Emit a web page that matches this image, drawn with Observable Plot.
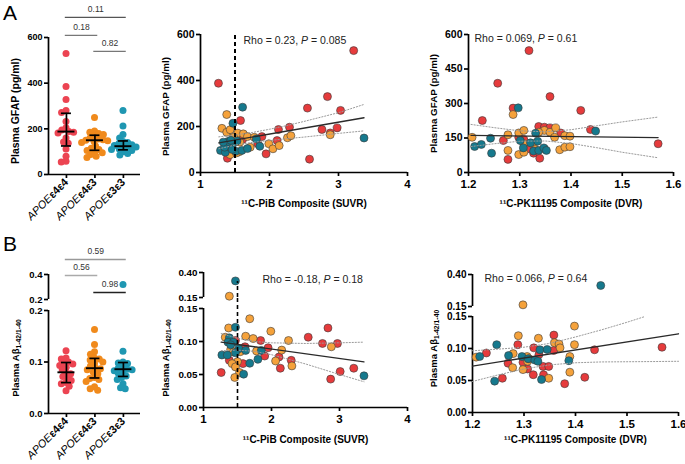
<!DOCTYPE html>
<html><head><meta charset="utf-8">
<script src="https://cdn.jsdelivr.net/npm/d3@7"></script>
<script src="https://cdn.jsdelivr.net/npm/@observablehq/plot@0.6"></script>
<style>
body{margin:0;background:#fff;}
#root{position:relative;width:685px;height:464px;font-family:"Liberation Sans",Arial,sans-serif;}
.tag{position:absolute;font-size:21px;line-height:21px;font-family:"Liberation Sans",Arial,sans-serif;color:#000;}
</style></head>
<body><div id="root"><div class="tag" style="left:3px;top:2px">A</div><div class="tag" style="left:3px;top:233px">B</div></div>
<script>
// ---------- categories ----------
const groups = ["ε4ε4", "ε4ε3", "ε3ε3"];
const stripColors = ["#ec4452", "#f08a1c", "#1f97b2"];
const dotColors = ["#e63b3c", "#f5a23b", "#16798d"];

// ---------- A: plasma GFAP by genotype ----------
const gfapE4E4 = [530, 385, 328, 280, 272, 232, 205, 195, 188, 185, 182, 160, 142, 137, 112, 80, 58, 55];
const gfapE4E3 = [250, 190, 185, 180, 175, 168, 160, 155, 152, 150, 148, 145, 140, 125, 115, 110, 105, 100, 95, 88, 80, 75];
const gfapE3E3 = [280, 212, 175, 160, 145, 140, 135, 130, 127, 124, 120, 115, 112, 110, 105, 100, 92, 85];
const gfapMedian = [188, 150, 124];
const gfapQ1 = [125, 106, 108];
const gfapQ3 = [268, 172, 147];
const gfapP = ["0.11", "0.18", "0.82"];
const pairFrom = [0, 0, 1];
const pairTo = [2, 1, 2];
const gfapTicks = [0, 200, 400, 600];

// ---------- A: GFAP vs 11C-PiB (SUVR) ----------
const a2E4E4 = [[1.26,388],[3.22,530],[2.84,330],[2.55,280],[3.03,270],[1.58,226],[2.29,197],[2.13,187],[2.76,187],[2.98,194],[2.88,172],[1.89,156],[1.61,143],[2.11,139],[1.83,125],[1.46,103],[1.95,81],[2.58,58],[1.39,62]];
const a2E4E3 = [[1.38,252],[1.31,192],[1.38,175],[1.43,186],[1.54,171],[1.62,168],[1.68,156],[1.48,153],[1.40,125],[1.57,132],[1.41,88],[1.43,78],[1.56,90],[1.72,110],[1.78,153],[1.99,125],[2.05,103],[2.14,117],[2.26,151],[2.31,160],[2.88,164],[1.52,85]];
const a2E3E3 = [[1.61,284],[1.47,214],[1.29,96],[1.36,88],[1.42,110],[1.48,128],[1.53,137],[1.51,92],[1.60,96],[1.68,104],[1.81,146],[1.86,114],[3.37,150],[1.35,110],[1.40,135],[1.33,132],[1.44,140],[1.46,100]];
const a2FitX = [1.265, 3.37];
const a2FitY = [129, 238];
const a2CiX = [1.265, 1.5, 1.75, 2.0, 2.25, 2.5, 2.75, 3.0, 3.37];
const a2CiUpper = [155, 163, 174, 188, 204, 222, 241, 260, 296];
const a2CiLower = [103, 119, 131, 139, 147, 154, 162, 170, 181];
const a2Stat = "Rho = 0.23, _P_ = 0.085";
const pibTicks = [1, 2, 3, 4];
const pibCutoff = [1.5];

// ---------- A: GFAP vs 11C-PK11195 (DVR) ----------
const a3E4E4 = [[1.318,530],[1.257,388],[1.359,330],[1.419,270],[1.227,226],[1.287,280],[1.337,200],[1.348,197],[1.359,194],[1.38,172],[1.438,187],[1.268,139],[1.298,153],[1.308,143],[1.316,103],[1.327,84],[1.570,125],[1.277,57],[1.339,62]];
const a3E4E3 = [[1.207,153],[1.287,252],[1.298,172],[1.308,183],[1.277,164],[1.277,96],[1.298,78],[1.308,88],[1.308,125],[1.327,125],[1.348,103],[1.348,183],[1.337,175],[1.359,175],[1.37,194],[1.368,153],[1.378,99],[1.388,160],[1.388,110],[1.398,158],[1.398,112],[1.33,100]];
const a3E3E3 = [[1.212,113],[1.225,122],[1.243,149],[1.245,84],[1.297,281],[1.301,139],[1.307,107],[1.321,129],[1.331,171],[1.335,136],[1.327,93],[1.337,96],[1.347,107],[1.448,180],[1.352,96]];
const a3FitX = [1.205, 1.57];
const a3FitY = [161, 152];
const a3CiX = [1.205, 1.25, 1.3, 1.35, 1.4, 1.45, 1.5, 1.57];
const a3CiUpper = [209, 195, 181, 177, 186, 203, 220, 241];
const a3CiLower = [113, 125, 136, 137, 126, 108, 88, 64];
const a3Stat = "Rho = 0.069, _P_ = 0.61";
const gfapTicks2 = [0, 150, 300, 450, 600];
const pkTicks = [1.2, 1.3, 1.4, 1.5, 1.6];

// ---------- B: plasma Aβ42/40 by genotype ----------
const abE4E4 = [0.122, 0.108, 0.106, 0.100, 0.098, 0.096, 0.093, 0.090, 0.085, 0.079, 0.077, 0.072, 0.070, 0.064, 0.060, 0.058, 0.053, 0.044];
const abE4E3 = [0.163, 0.134, 0.120, 0.115, 0.108, 0.106, 0.104, 0.100, 0.097, 0.092, 0.088, 0.087, 0.085, 0.080, 0.077, 0.070, 0.068, 0.066, 0.062, 0.052, 0.048, 0.045];
const abE3E3 = [0.32, 0.121, 0.100, 0.098, 0.097, 0.090, 0.088, 0.086, 0.085, 0.083, 0.080, 0.078, 0.073, 0.070, 0.066, 0.058, 0.050, 0.048];
const abMedian = [0.080, 0.088, 0.086];
const abQ1 = [0.060, 0.069, 0.072];
const abQ3 = [0.099, 0.107, 0.099];
const abP = ["0.59", "0.56", "0.98"];
const abTicksLow1 = [0, 0.1, 0.2];
const abTicksHigh1 = [0.2, 0.4];

// ---------- B: Aβ42/40 vs 11C-PiB ----------
const b2E4E4 = [[2.83,0.1205],[2.54,0.1065],[1.84,0.1015],[1.47,0.1015],[2.75,0.097],[2.97,0.097],[1.61,0.092],[1.95,0.0905],[1.90,0.078],[2.11,0.0765],[1.38,0.0715],[2.29,0.0715],[1.58,0.0665],[2.13,0.0595],[3.21,0.0595],[1.26,0.053],[3.01,0.0545],[2.87,0.043]];
const b2E4E3 = [[1.38,0.163],[1.37,0.1205],[1.68,0.1345],[1.99,0.1155],[1.32,0.1065],[1.62,0.108],[1.73,0.1045],[2.25,0.1015],[2.88,0.092],[1.40,0.088],[1.78,0.0855],[2.15,0.087],[1.54,0.0845],[2.06,0.0705],[1.50,0.0695],[1.42,0.0665],[1.47,0.0615],[2.30,0.063],[1.53,0.053],[1.46,0.0455],[1.44,0.084]];
const b2E3E3 = [[1.47,0.316],[1.47,0.1215],[1.38,0.1055],[1.36,0.099],[1.44,0.099],[1.40,0.095],[1.52,0.089],[1.62,0.0865],[1.85,0.0865],[1.27,0.0795],[1.35,0.0795],[1.80,0.073],[1.68,0.067],[1.59,0.0505],[3.36,0.048],[1.47,0.083]];
const b2FitX = [1.26, 3.36];
const b2FitY = [0.099, 0.069];
const b2CiX = [1.26, 1.5, 1.75, 2.0, 2.5, 3.0, 3.36];
const b2CiUpper = [0.112, 0.105, 0.100, 0.098, 0.097, 0.098, 0.099];
const b2CiLower = [0.086, 0.087, 0.085, 0.080, 0.066, 0.050, 0.039];
const b2Stat = "Rho = -0.18, _P_ = 0.18";
const abTicksLow = [0, 0.05, 0.10, 0.15];
const abTicksHigh = [0.15, 0.40];

// ---------- B: Aβ42/40 vs 11C-PK11195 ----------
const b3E4E4 = [[1.358,0.121],[1.288,0.106],[1.319,0.101],[1.358,0.097],[1.437,0.098],[1.568,0.102],[1.227,0.093],[1.329,0.0905],[1.298,0.0785],[1.269,0.077],[1.337,0.072],[1.348,0.072],[1.307,0.068],[1.318,0.059],[1.338,0.059],[1.258,0.0535],[1.418,0.055],[1.379,0.045]];
const b3E4E3 = [[1.298,0.163],[1.398,0.135],[1.289,0.120],[1.328,0.116],[1.359,0.109],[1.368,0.107],[1.398,0.106],[1.370,0.101],[1.279,0.092],[1.207,0.0865],[1.389,0.0875],[1.306,0.0875],[1.307,0.080],[1.278,0.070],[1.298,0.067],[1.389,0.063],[1.348,0.0535],[1.31,0.084]];
const b3E3E3 = [[1.449,0.314],[1.247,0.106],[1.331,0.098],[1.345,0.0985],[1.214,0.0875],[1.270,0.089],[1.296,0.0875],[1.308,0.084],[1.321,0.082],[1.327,0.080],[1.387,0.081],[1.334,0.0515],[1.243,0.049]];
const b3FitX = [1.2, 1.6];
const b3FitY = [0.0725, 0.123];
const b3CiUpperX = [1.2, 1.25, 1.3, 1.35, 1.4, 1.45, 1.5, 1.535];
const b3CiUpper = [0.0965, 0.099, 0.102, 0.108, 0.118, 0.129, 0.141, 0.150];
const b3CiLowerX = [1.2, 1.25, 1.3, 1.35, 1.4, 1.45, 1.5, 1.55, 1.6];
const b3CiLower = [0.0485, 0.0588, 0.0681, 0.0744, 0.0777, 0.079, 0.0793, 0.0796, 0.080];
const b3Stat = "Rho = 0.066, _P_ = 0.64";

// ---------- labels ----------
const gfapLabel = "Plasma GFAP (pg/ml)";
const abLabel = "Plasma Aβ~1-42/1-40~";
const pibLabel = "¹¹C-PiB Composite (SUVR)";
const pkLabel = "¹¹C-PK11195 Composite (DVR)";

// ---------- helpers ----------
const root = document.getElementById("root");
const FONT = "'Liberation Sans', Arial, sans-serif";
const STYLE = {fontFamily: FONT, fontSize: "10px", background: "transparent", color: "#000", overflow: "visible"};
function rich(svg) {
  const NS = "http://www.w3.org/2000/svg";
  svg.querySelectorAll("text").forEach(t => {
    if (t.querySelector("tspan")) return;
    const s = t.textContent;
    if (!/[_*~]/.test(s)) return;
    t.textContent = "";
    for (const m of s.match(/_[^_]*_|\*[^*]*\*|~[^~]*~|[^_*~]+/g)) {
      const ts = document.createElementNS(NS, "tspan");
      const c = m[0];
      if (c === "_") { ts.setAttribute("font-style", "italic"); ts.textContent = m.slice(1, -1); }
      else if (c === "*") { ts.setAttribute("font-weight", "bold"); ts.textContent = m.slice(1, -1); }
      else if (c === "~") { ts.setAttribute("font-size", "72%"); ts.setAttribute("dy", "0.3em"); ts.textContent = m.slice(1, -1); }
      else ts.textContent = m;
      t.appendChild(ts);
    }
  });
}
function place(svg, left, top) {
  rich(svg);
  svg.style.position = "absolute";
  svg.style.left = left + "px";
  svg.style.top = top + "px";
  root.appendChild(svg);
}
const pts = (xs, ys) => xs.map((x, i) => ({x, y: ys[i]}));
const inside = (v, dom) => v >= dom[0] && v <= dom[1];

// ---------- genotype strip panel (one part per axis segment) ----------
function stripPart(c, p) {
  const xDom = [-0.63, 2.6];
  const ml = 48, mr = 10;
  const step = (c.width - ml - mr) / (xDom[1] - xDom[0]);
  const idx = [0, 1, 2];
  const cap = 5 / step, med = 8.5 / step;
  const marks = [
    Plot.ruleX([xDom[0]], {x: d => d, strokeWidth: 1.7}),
    Plot.axisY({ticks: p.yTicks, tickFormat: c.yFormat, tickSize: 4, tickPadding: 2, fontSize: c.tickSize, fontWeight: "bold", strokeWidth: 1.7, label: null})
  ];
  if (p.xAxis) {
    marks.push(
      Plot.ruleY([p.yDomain[0]], {y: d => d, strokeWidth: 1.7}),
      Plot.axisX({ticks: idx, tickFormat: i => "_APOE_*" + groups[i] + "*", tickRotate: -45, tickSize: 4, tickPadding: 2, fontSize: 11, strokeWidth: 1.7, label: null})
    );
  }
  c.series.forEach((vals, g) => {
    const v = vals.filter(d => inside(d, p.yDomain));
    marks.push(Plot.dot(v, Plot.dodgeX({anchor: "middle", padding: -2.2}, {y: d => d, r: 3.5, fill: stripColors[g], dx: (g - 1) * step})));
  });
  if (p.xAxis) {
    marks.push(
      Plot.ruleX(idx, {x: i => i, y1: i => c.q1[i], y2: i => c.q3[i], strokeWidth: 1.7}),
      Plot.ruleY(idx, {y: i => c.q1[i], x1: i => i - cap, x2: i => i + cap, strokeWidth: 1.7}),
      Plot.ruleY(idx, {y: i => c.q3[i], x1: i => i - cap, x2: i => i + cap, strokeWidth: 1.7}),
      Plot.ruleY(idx, {y: i => c.median[i], x1: i => i - med, x2: i => i + med, strokeWidth: 1.9})
    );
  }
  if (p.brackets) {
    p.brackets.forEach(b => {
      marks.push(Plot.ruleY([b], {y: d => d.level, x1: d => d.from - 0.04, x2: d => d.to + 0.1, stroke: b.color, strokeWidth: 1.3}));
      marks.push(Plot.text([b], {x: d => (d.from + d.to) / 2 + 0.03, y: d => d.level, text: d => d.p, dy: -8, fontSize: 8.5, fill: "#333"}));
    });
  }
  if (p.yLabel) {
    marks.push(Plot.text([c.yLabel], {text: d => d, frameAnchor: "left", dx: c.yLabelDx, dy: p.yLabelDy, rotate: -90, textAnchor: "middle", fontWeight: "bold", fontSize: c.yLabelSize}));
  }
  const svg = Plot.plot({
    width: c.width, height: p.height,
    marginLeft: ml, marginRight: mr, marginTop: p.marginTop, marginBottom: p.marginBottom,
    x: {domain: xDom, axis: p.xAxis ? undefined : null},
    y: {domain: p.yDomain},
    style: STYLE,
    marks
  });
  place(svg, c.left, p.top);
}

// ---------- scatter panel (one part per axis segment) ----------
function scatterPart(c, p) {
  const marks = [
    Plot.ruleX([c.xDomain[0]], {x: d => d, strokeWidth: 1.7}),
    Plot.axisY({ticks: p.yTicks, tickFormat: c.yFormat, tickSize: 4, tickPadding: 2, fontSize: c.yTickSize, fontWeight: "bold", strokeWidth: 1.7, label: null})
  ];
  if (p.xAxis) {
    marks.push(
      Plot.ruleY([p.yDomain[0]], {y: d => d, strokeWidth: 1.7}),
      Plot.axisX({ticks: c.xTicks, tickFormat: c.xFormat, tickSize: 4, tickPadding: 3, fontSize: 11.5, fontWeight: "bold", strokeWidth: 1.7, label: null})
    );
  }
  c.series.forEach((s, g) => {
    const v = s.filter(d => inside(d[1], p.yDomain));
    marks.push(Plot.dot(v, {x: d => d[0], y: d => d[1], r: 4, fill: dotColors[g], stroke: "#3a3a3a", strokeWidth: 0.6}));
  });
  if (p.fit) {
    marks.push(
      Plot.line(c.ciUpper, {x: "x", y: "y", stroke: "#9a9a9a", strokeWidth: 1, strokeDasharray: "1.2,1.8"}),
      Plot.line(c.ciLower, {x: "x", y: "y", stroke: "#9a9a9a", strokeWidth: 1, strokeDasharray: "1.2,1.8"}),
      Plot.line(c.fit, {x: "x", y: "y", stroke: "#2a2a2a", strokeWidth: 1.3})
    );
  }
  if (c.vline && p.vlineY) {
    marks.push(Plot.ruleX(c.vline, {x: d => d, y1: () => p.vlineY[0], y2: () => p.vlineY[1], strokeWidth: c.vlineWidth, strokeDasharray: "4,3"}));
  }
  if (p.stat) {
    marks.push(Plot.text([c.stat], {text: d => d, frameAnchor: "top-left", dx: c.statDx, dy: c.statDy, textAnchor: "start", lineAnchor: "middle", fontSize: 10.5, fill: "#222"}));
  }
  if (p.xAxis) {
    marks.push(Plot.text([c.xLabel], {text: d => d, frameAnchor: "bottom", dy: c.xLabelDy, textAnchor: "middle", lineAnchor: "middle", fontWeight: "bold", fontSize: 10}));
  }
  if (p.yLabel) {
    marks.push(Plot.text([c.yLabel], {text: d => d, frameAnchor: "left", dx: c.yLabelDx, dy: p.yLabelDy, rotate: -90, textAnchor: "middle", fontWeight: "bold", fontSize: c.yLabelSize}));
  }
  const svg = Plot.plot({
    width: c.width, height: p.height,
    marginLeft: c.marginLeft, marginRight: c.marginRight, marginTop: p.marginTop, marginBottom: p.marginBottom,
    x: {domain: c.xDomain, axis: p.xAxis ? undefined : null},
    y: {domain: p.yDomain},
    style: STYLE,
    marks
  });
  place(svg, c.left, p.top);
}

// ---------- A1 ----------
const A1 = {
  left: 0, width: 150, series: [gfapE4E4, gfapE4E3, gfapE3E3], median: gfapMedian, q1: gfapQ1, q3: gfapQ3,
  yFormat: d3.format("d"), tickSize: 9, yLabel: gfapLabel, yLabelDx: -33, yLabelSize: 10.5
};
stripPart(A1, {
  top: 0, height: 232, marginTop: 37, marginBottom: 58, yDomain: [0, 600], yTicks: gfapTicks,
  xAxis: true, yLabel: true, yLabelDy: 5,
  brackets: [
    {from: pairFrom[0], to: pairTo[0], p: gfapP[0], level: 688, color: "#555"},
    {from: pairFrom[1], to: pairTo[1], p: gfapP[1], level: 609, color: "#777"},
    {from: pairFrom[2], to: pairTo[2], p: gfapP[2], level: 539, color: "#777"}
  ]
});

// ---------- B1 ----------
const B1 = {
  left: 0, width: 150, series: [abE4E4, abE4E3, abE3E3], median: abMedian, q1: abQ1, q3: abQ3,
  yFormat: d3.format(".1f"), tickSize: 9.5, yLabel: abLabel, yLabelDx: -33, yLabelSize: 9.5
};
stripPart(B1, {
  top: 232, height: 67, marginTop: 42, marginBottom: 0, yDomain: [0.2, 0.4], yTicks: abTicksHigh1,
  brackets: [
    {from: pairFrom[0], to: pairTo[0], p: abP[0], level: 0.52, color: "#999"},
    {from: pairFrom[1], to: pairTo[1], p: abP[1], level: 0.392, color: "#aaa"},
    {from: pairFrom[2], to: pairTo[2], p: abP[2], level: 0.256, color: "#222"}
  ]
});
stripPart(B1, {
  top: 301, height: 163, marginTop: 9, marginBottom: 51, yDomain: [0, 0.2], yTicks: abTicksLow1,
  xAxis: true, yLabel: true, yLabelDy: -4
});

// ---------- A2 ----------
const A2 = {
  left: 150, width: 270, marginLeft: 50, marginRight: 13, series: [a2E4E4, a2E4E3, a2E3E3],
  xDomain: [1, 4], xTicks: pibTicks, xFormat: d3.format("d"), yFormat: d3.format("d"), yTickSize: 10.5,
  fit: pts(a2FitX, a2FitY), ciUpper: pts(a2CiX, a2CiUpper), ciLower: pts(a2CiX, a2CiLower),
  vline: pibCutoff, vlineWidth: 2, stat: a2Stat, statDx: 43, statDy: 6,
  xLabel: pibLabel, xLabelDy: 31, yLabel: gfapLabel, yLabelDx: -35, yLabelSize: 9.8
};
scatterPart(A2, {top: 0, height: 232, marginTop: 34, marginBottom: 60, yDomain: [0, 600], yTicks: gfapTicks,
  xAxis: true, fit: true, stat: true, yLabel: true, yLabelDy: 3, vlineY: [0, 600]});

// ---------- A3 ----------
const A3 = {
  left: 420, width: 265, marginLeft: 48, marginRight: 12, series: [a3E4E4, a3E4E3, a3E3E3],
  xDomain: [1.2, 1.6], xTicks: pkTicks, xFormat: d3.format(".1f"), yFormat: d3.format("d"), yTickSize: 10.5,
  fit: pts(a3FitX, a3FitY), ciUpper: pts(a3CiX, a3CiUpper), ciLower: pts(a3CiX, a3CiLower),
  stat: a3Stat, statDx: 6, statDy: 4,
  xLabel: pkLabel, xLabelDy: 31, yLabel: gfapLabel, yLabelDx: -35, yLabelSize: 9.8
};
scatterPart(A3, {top: 0, height: 232, marginTop: 34, marginBottom: 60, yDomain: [0, 600], yTicks: gfapTicks2,
  xAxis: true, fit: true, stat: true, yLabel: true, yLabelDy: 0});

// ---------- B2 ----------
const B2 = {
  left: 150, width: 270, marginLeft: 53, marginRight: 13, series: [b2E4E4, b2E4E3, b2E3E3],
  xDomain: [1, 4], xTicks: pibTicks, xFormat: d3.format("d"), yFormat: d3.format(".2f"), yTickSize: 9.8,
  fit: pts(b2FitX, b2FitY), ciUpper: pts(b2CiX, b2CiUpper), ciLower: pts(b2CiX, b2CiLower),
  vline: pibCutoff, vlineWidth: 1.6, stat: b2Stat, statDx: 59, statDy: 7,
  xLabel: pibLabel, xLabelDy: 32, yLabel: abLabel, yLabelDx: -38, yLabelSize: 9.5
};
scatterPart(B2, {top: 232, height: 65, marginTop: 40, marginBottom: 0, yDomain: [0.15, 0.4], yTicks: abTicksHigh,
  stat: true, vlineY: [0.15, 0.31]});
scatterPart(B2, {top: 300, height: 164, marginTop: 8, marginBottom: 57, yDomain: [0, 0.15], yTicks: abTicksLow,
  xAxis: true, fit: true, yLabel: true, yLabelDy: 0, vlineY: [0, 0.167]});

// ---------- B3 ----------
const B3 = {
  left: 420, width: 265, marginLeft: 52, marginRight: 7, series: [b3E4E4, b3E4E3, b3E3E3],
  xDomain: [1.2, 1.6], xTicks: pkTicks, xFormat: d3.format(".1f"), yFormat: d3.format(".2f"), yTickSize: 10,
  fit: pts(b3FitX, b3FitY), ciUpper: pts(b3CiUpperX, b3CiUpper), ciLower: pts(b3CiLowerX, b3CiLower),
  stat: b3Stat, statDx: 12, statDy: 4,
  xLabel: pkLabel, xLabelDy: 27, yLabel: abLabel, yLabelDx: -39, yLabelSize: 9.5
};
scatterPart(B3, {top: 232, height: 74, marginTop: 42, marginBottom: 0, yDomain: [0.15, 0.4], yTicks: abTicksHigh,
  stat: true});
scatterPart(B3, {top: 308, height: 156, marginTop: 8, marginBottom: 52, yDomain: [0, 0.15], yTicks: abTicksLow,
  xAxis: true, fit: true, yLabel: true, yLabelDy: -16});
</script></body></html>
